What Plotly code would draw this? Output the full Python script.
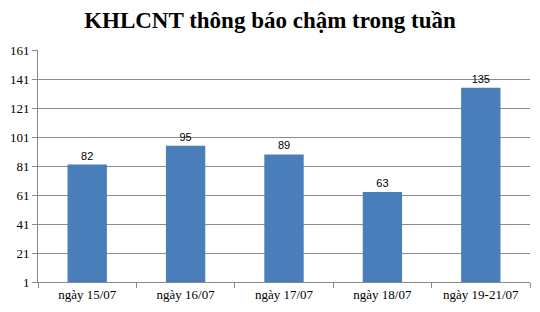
import plotly.graph_objects as go

categories = ["ngày 15/07", "ngày 16/07", "ngày 17/07", "ngày 18/07", "ngày 19-21/07"]
values = [82, 95, 89, 63, 135]
y_ticks = [1, 21, 41, 61, 81, 101, 121, 141, 161]

fig = go.Figure(go.Bar(
    x=categories, y=values,
    marker=dict(color="#4a7ebb", line=dict(width=0)),
    text=[str(v) for v in values], textposition="outside",
    textfont=dict(family="Liberation Sans, Arial", size=11, color="#000"),
    cliponaxis=False,
))
fig.update_layout(
    width=540, height=312,
    margin=dict(l=36, r=10, t=50, b=29),
    paper_bgcolor="white", plot_bgcolor="white",
    bargap=0.6, showlegend=False,
    uniformtext=dict(minsize=11),
    title=dict(text="<b>KHLCNT thông báo chậm trong tuần</b>", x=0.5, xanchor="center", y=0.935, yanchor="middle",
               font=dict(family="Liberation Serif, Times New Roman", size=23, color="#000")),
)
fig.update_xaxes(
    showline=True, linecolor="#888", linewidth=1,
    ticks="outside", tickson="boundaries", ticklen=5, tickcolor="#888",
    tickfont=dict(family="Liberation Serif, Times New Roman", size=13, color="#000"),
    showgrid=False,
)
fig.update_yaxes(
    range=[1, 161], tickvals=y_ticks, ticktext=[str(t) for t in y_ticks],
    showline=True, linecolor="#888", linewidth=1,
    ticks="outside", ticklen=5, tickcolor="#888",
    showgrid=True, gridcolor="#8c8c8c", gridwidth=1,
    tickfont=dict(family="Liberation Serif, Times New Roman", size=13, color="#000"),
    zeroline=False,
)
fig.write_html("out.html")
